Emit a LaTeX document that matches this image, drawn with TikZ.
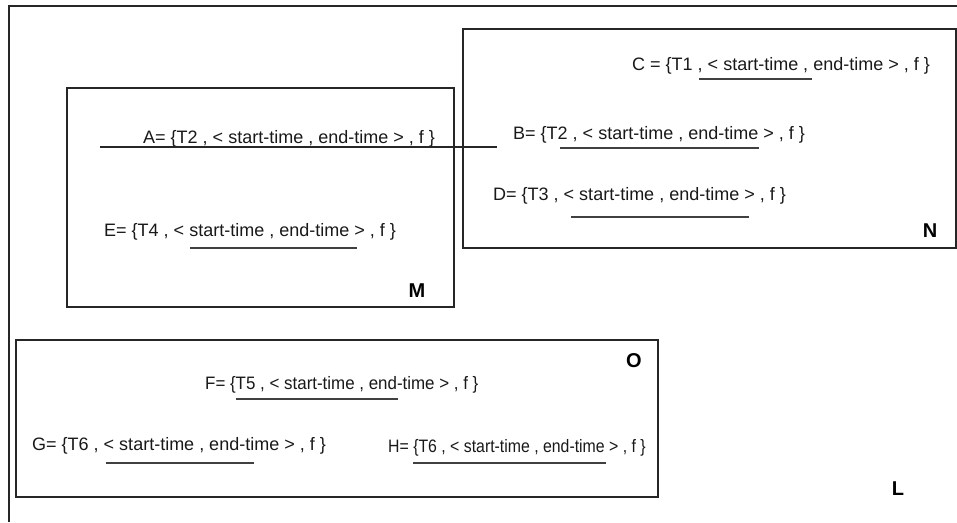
\documentclass[tikz,border=0pt]{standalone}
\usepackage{fontspec}
\setmainfont{Liberation Sans}
\begin{document}
\begin{tikzpicture}[x=1pt,y=-1pt,
  box/.style={draw=black!85,line width=1.3pt},
  rec/.style={anchor=base west,inner sep=0pt,font=\fontsize{18}{20}\selectfont,text=black!90},
  lab/.style={anchor=base,inner sep=0pt,font=\fontsize{20}{22}\selectfont\bfseries},
  uline/.style={draw=black!75,line width=1.1pt}]
\useasboundingbox (0,0) rectangle (957,522);
% outer box L (clipped at right and bottom)
\draw[box] (9,522) -- (9,6) -- (957,6);
% boxes
\draw[box] (67,88) rectangle (454,307);
\draw[box] (463,29) rectangle (956,248);
\draw[box] (16,340) rectangle (658,497);
% labels
\node[lab] (L) at (898,495) {L};
\node[lab] (M) at (417,297) {M};
\node[lab] (N) at (930,237) {N};
\node[lab] (O) at (634,367) {O};
% records
\node[rec] (A) at (143,143) {A= \{T2 , < start-time , end-time > , f \}};
\node[rec] (E) at (104,236) {E= \{T4 , < start-time , end-time > , f \}};
\node[rec] (C) at (632,70) {C = \{T1 , < start-time , end-time > , f \}};
\node[rec] (B) at (513,139) {B= \{T2 , < start-time , end-time > , f \}};
\node[rec] (D) at (493,200) {D= \{T3 , < start-time , end-time > , f \}};
\node[rec,xscale=0.94] (F) at (205,389) {F= \{T5 , < start-time , end-time > , f \}};
\node[rec] (G) at (32,450) {G= \{T6 , < start-time , end-time > , f \}};
\node[rec,xscale=0.88] (H) at (388,452) {H= \{T6 , < start-time , end-time > , f \}};
% line through A, crossing M and N
\coordinate (a1) at (100,147);
\coordinate (a2) at (497,147);
\draw[draw=black!85,line width=1.1pt] (a1) -- (a2);
% underlines
\draw[uline] (190,248) -- (357,248);
\draw[uline] (699,79) -- (812,79);
\draw[uline] (560,148) -- (759,148);
\draw[uline] (571,217) -- (749,217);
\draw[uline] (236,399) -- (398,399);
\draw[uline] (106,463) -- (254,463);
\draw[uline] (413,463) -- (606,463);
\end{tikzpicture}
\end{document}
